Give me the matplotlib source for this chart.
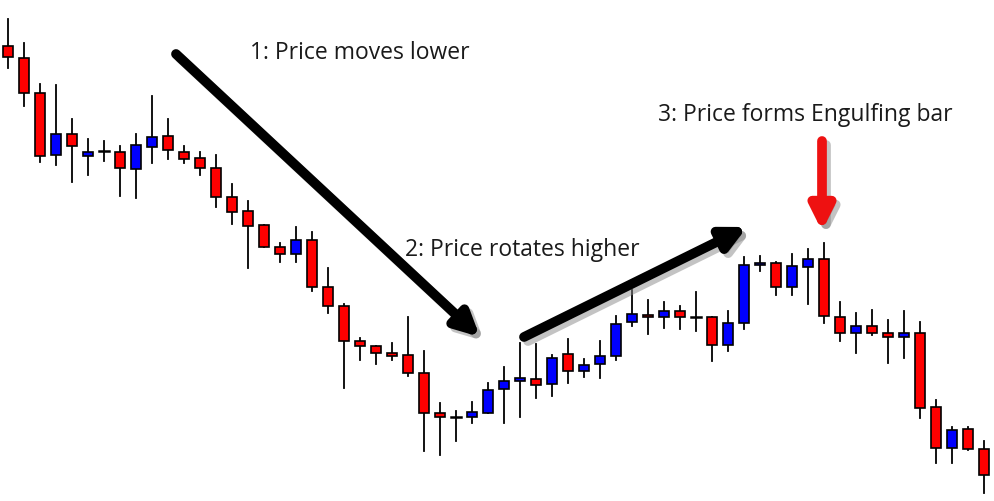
import numpy as np
import matplotlib.pyplot as plt

# candle levels measured in screen units (top = 0), so the y axis is inverted
opens  = [47, 59, 94, 156, 135, 157, 152, 153, 170, 148, 137, 153, 159, 169, 198, 212, 226, 248, 255, 241,
          288, 307, 342, 347, 354, 356, 374, 414, 418, 418, 414, 390, 382, 380, 385, 355, 372, 365, 357, 323,
          316, 318, 312, 318, 318, 346, 324, 266, 264, 288, 268, 260, 318, 334, 327, 334, 338, 334, 408, 449,
          430, 450]
closes = [58, 94, 157, 135, 147, 153, 153, 169, 146, 138, 151, 160, 169, 198, 213, 227, 248, 255, 241, 288,
          307, 342, 347, 354, 357, 374, 414, 418, 418, 413, 391, 382, 379, 386, 359, 372, 366, 357, 325, 315,
          318, 312, 318, 318, 346, 324, 266, 264, 288, 267, 260, 317, 334, 327, 334, 338, 334, 409, 449, 431,
          450, 476]
highs  = [20, 44, 85, 86, 120, 140, 142, 147, 135, 97, 120, 147, 153, 156, 185, 202, 226, 244, 228, 233,
          269, 305, 339, 347, 344, 318, 352, 404, 412, 403, 384, 368, 344, 345, 356, 340, 360, 342, 317, 291,
          301, 303, 307, 293, 318, 312, 258, 257, 263, 255, 250, 244, 303, 314, 311, 321, 312, 323, 401, 428,
          428, 442]
lows   = [69, 107, 163, 166, 183, 176, 162, 197, 199, 164, 160, 164, 176, 208, 225, 269, 248, 263, 263, 292,
          314, 389, 361, 365, 361, 377, 452, 456, 442, 424, 414, 424, 418, 399, 397, 384, 378, 379, 361, 327,
          335, 329, 330, 332, 362, 352, 330, 272, 296, 296, 305, 324, 342, 354, 336, 364, 359, 419, 464, 464,
          451, 494]
n = len(highs)
bull = [c < o for o, c in zip(opens, closes)]

fig = plt.figure(figsize=(9.95, 5.02), dpi=100)
ax = fig.add_axes([0, 0, 1, 1])
ax.set_xlim(0, 995)
ax.set_ylim(502, 0)
ax.axis('off')

xs = 8 + 16 * np.arange(n)
for x, o, c, h, l, b in zip(xs, opens, closes, highs, lows, bull):
    ax.plot([x, x], [h, l], color='black', lw=1.3, zorder=1)
    top, bot = min(o, c), max(o, c)
    col = '#0000ff' if b else '#ff0000'
    if bot - top < 1.5:
        ax.plot([x - 5, x + 5], [o, o], color='black', lw=1.8, zorder=2)
    else:
        ax.bar(x, bot - top, width=10, bottom=top, color=col, edgecolor='black', lw=1.2, zorder=2)

def fat_arrow(x0, y0, x1, y1, col):
    for dx, dy, c, a in [(4, 4, '#888888', 0.5), (0, 0, col, 1)]:
        ax.annotate('', xy=(x1 + dx, y1 + dy), xytext=(x0 + dx, y0 + dy),
                    arrowprops=dict(arrowstyle='-|>,head_length=1.4,head_width=0.7', lw=7,
                                    color=c, alpha=a, capstyle='round', shrinkA=0, shrinkB=0),
                    zorder=5)

fat_arrow(176, 55, 480, 338, 'black')
fat_arrow(524, 338, 747, 228, 'black')
fat_arrow(822, 142, 822, 232, '#ee1111')

fnt = dict(fontsize=16.5, family='Open Sans', color='#1a1a1a', va='center')
ax.text(250, 53, '1: Price moves lower', **fnt)
ax.text(405, 250, '2: Price rotates higher', **fnt)
ax.text(658, 115, '3: Price forms Engulfing bar', **fnt)

fig.savefig('out.png', dpi=100)
